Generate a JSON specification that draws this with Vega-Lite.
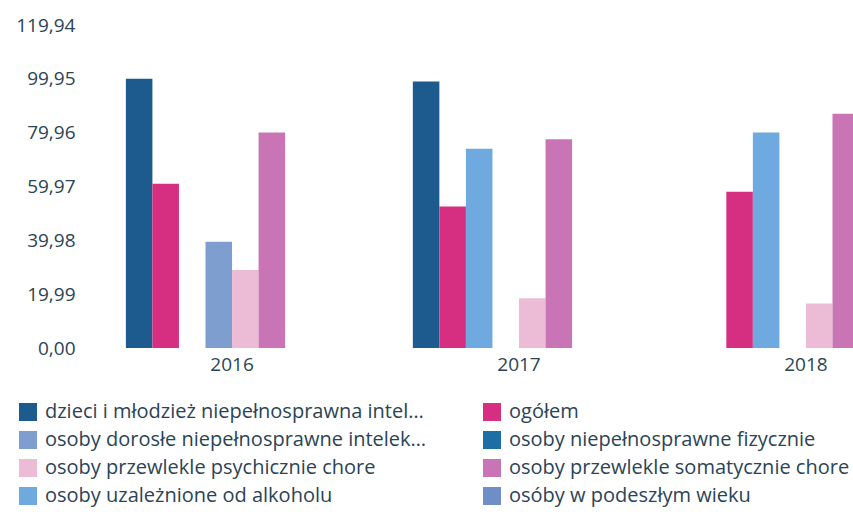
{
  "$schema": "https://vega.github.io/schema/vega-lite/v6.json",
  "width": 763,
  "height": 323,
  "autosize": {"type": "none"},
  "padding": {"left": 90, "top": 25, "right": 0, "bottom": 172},
  "background": "white",
  "config": {
    "view": {"stroke": null},
    "font": "Open Sans",
    "axis": {"labelFont": "Open Sans", "labelColor": "#2a4456", "labelFontSize": 19}
  },
  "data": {
    "values": [
      {"rok": "2016", "kategoria": "dzieci i młodzież niepełnosprawna intelektualnie", "wartosc": 99.95},
      {"rok": "2016", "kategoria": "ogółem", "wartosc": 61.0},
      {"rok": "2016", "kategoria": "osoby dorosłe niepełnosprawne intelektualnie", "wartosc": 39.5},
      {"rok": "2016", "kategoria": "osoby przewlekle psychicznie chore", "wartosc": 29.0},
      {"rok": "2016", "kategoria": "osoby przewlekle somatycznie chore", "wartosc": 80.0},
      {"rok": "2017", "kategoria": "dzieci i młodzież niepełnosprawna intelektualnie", "wartosc": 99.0},
      {"rok": "2017", "kategoria": "ogółem", "wartosc": 52.5},
      {"rok": "2017", "kategoria": "osoby uzależnione od alkoholu", "wartosc": 74.0},
      {"rok": "2017", "kategoria": "osoby przewlekle psychicznie chore", "wartosc": 18.5},
      {"rok": "2017", "kategoria": "osoby przewlekle somatycznie chore", "wartosc": 77.5},
      {"rok": "2018", "kategoria": "ogółem", "wartosc": 58.0},
      {"rok": "2018", "kategoria": "osoby uzależnione od alkoholu", "wartosc": 80.0},
      {"rok": "2018", "kategoria": "osoby przewlekle psychicznie chore", "wartosc": 16.5},
      {"rok": "2018", "kategoria": "osoby przewlekle somatycznie chore", "wartosc": 87.0}
    ]
  },
  "mark": {"type": "bar", "clip": true},
  "encoding": {
    "x": {
      "field": "rok",
      "type": "nominal",
      "scale": {"range": [0, 858], "paddingInner": 0.26, "paddingOuter": 0.125},
      "axis": {"title": null, "domain": false, "ticks": false, "labelAngle": 0, "labelPadding": 7}
    },
    "xOffset": {
      "field": "kategoria",
      "type": "nominal",
      "scale": {
        "paddingInner": 0,
        "paddingOuter": 0,
        "domain": [
          "dzieci i młodzież niepełnosprawna intelektualnie",
          "ogółem",
          "osoby uzależnione od alkoholu",
          "osoby dorosłe niepełnosprawne intelektualnie",
          "osoby przewlekle psychicznie chore",
          "osoby przewlekle somatycznie chore",
          "osoby niepełnosprawne fizycznie",
          "osóby w podeszłym wieku"
        ]
      }
    },
    "y": {
      "field": "wartosc",
      "type": "quantitative",
      "scale": {"domain": [0, 119.94], "nice": false, "zero": true},
      "axis": {
        "title": null,
        "domain": false,
        "ticks": false,
        "grid": false,
        "labelPadding": 15,
        "values": [0, 19.99, 39.98, 59.97, 79.96, 99.95, 119.94],
        "labelExpr": "replace(format(datum.value, '.2f'), '.', ',')"
      }
    },
    "color": {
      "field": "kategoria",
      "type": "nominal",
      "scale": {
        "domain": [
          "dzieci i młodzież niepełnosprawna intelektualnie",
          "osoby dorosłe niepełnosprawne intelektualnie",
          "osoby przewlekle psychicznie chore",
          "osoby uzależnione od alkoholu",
          "ogółem",
          "osoby niepełnosprawne fizycznie",
          "osoby przewlekle somatycznie chore",
          "osóby w podeszłym wieku"
        ],
        "range": ["#1d5b8e", "#7f9ed0", "#ecbcd6", "#6eaadf", "#d62f82", "#1e6ea6", "#c974b4", "#6f8ec8"]
      },
      "legend": {
        "title": null,
        "orient": "none",
        "legendX": -72,
        "legendY": 377,
        "columns": 2,
        "symbolType": "square",
        "symbolSize": 324,
        "symbolStrokeWidth": 0,
        "labelFont": "Open Sans",
        "labelFontSize": 20,
        "labelColor": "#2a4456",
        "labelLimit": 385,
        "labelOffset": 7,
        "columnPadding": 55,
        "rowPadding": 8,
        "gridAlign": "all"
      }
    }
  }
}
